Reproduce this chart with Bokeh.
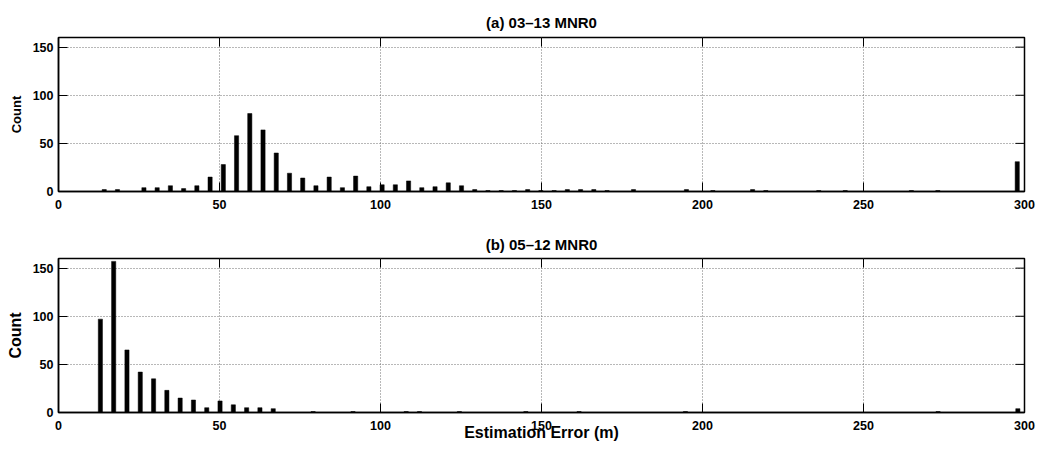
import numpy as np
from bokeh.plotting import figure
from bokeh.models import FixedTicker, Range1d, ColumnDataSource
from bokeh.layouts import column
from bokeh.embed import file_html
from bokeh.resources import INLINE

# ---------------- data ----------------
N_BINS = 70
TOP_RANGE = (12.15, 299.8)      # histogram span, panel (a)
BOTTOM_RANGE = (10.94, 300.0)   # histogram span, panel (b)

top_counts = [2, 2, 0, 4, 4, 6, 3, 6, 15, 28,
              58, 81, 64, 40, 19, 14, 6, 15, 4, 16,
              5, 7, 7, 11, 4, 5, 9, 6, 2, 1,
              1, 1, 2, 1, 1, 2, 2, 2, 1, 0,
              2, 0, 0, 0, 2, 0, 1, 0, 0, 2,
              1, 0, 0, 0, 1, 0, 1, 0, 0, 0,
              0, 1, 0, 1, 0, 0, 0, 0, 0, 31]

bottom_counts = [97, 157, 65, 42, 35, 23, 15, 13, 5, 12,
                 8, 5, 5, 4, 0, 0, 1, 0, 0, 1,
                 0, 0, 0, 1, 1, 0, 0, 1, 0, 0,
                 0, 0, 1, 0, 0, 0, 1, 0, 0, 0,
                 0, 0, 0, 0, 1, 0, 0, 0, 0, 0,
                 0, 0, 0, 0, 0, 0, 0, 0, 0, 0,
                 0, 0, 0, 1, 0, 0, 0, 0, 0, 4]

x_ticks = [0, 50, 100, 150, 200, 250, 300]
y_ticks = [0, 50, 100, 150]
titles = ["(a) 03\u201313 MNR0", "(b) 05\u201312 MNR0"]
x_label = "Estimation Error (m)"
y_label = "Count"

FONT = "Liberation Sans"
X0, X1 = 0, 300
Y0, Y1 = 0, 160
FRAME_W, FRAME_H = 966, 154
TICK_PX = 9


def bin_centers(lo, hi, n):
    edges = np.linspace(lo, hi, n + 1)
    return (edges[:-1] + edges[1:]) / 2


def make_panel(title, counts, rng, b_top, b_bottom, title_pad, ylab_size, xlab):
    p = figure(frame_width=FRAME_W, frame_height=FRAME_H,
               x_range=Range1d(X0, X1), y_range=Range1d(Y0, Y1),
               output_backend="svg", toolbar_location=None,
               min_border_left=58, min_border_right=13,
               min_border_top=b_top, min_border_bottom=b_bottom)
    p.title.text = title
    p.title.text_font = FONT
    p.title.text_font_size = "15px"
    p.title.text_font_style = "bold"
    p.title.text_color = "black"
    p.title.align = "center"
    if "padding" in p.title.properties():
        p.title.padding = title_pad

    p.background_fill_color = "white"
    p.border_fill_color = "white"
    p.outline_line_color = "black"
    p.outline_line_width = 1.5

    for g, ticks in ((p.xgrid[0], x_ticks), (p.ygrid[0], y_ticks)):
        g.ticker = FixedTicker(ticks=ticks)
        g.grid_line_color = "#707070"
        g.grid_line_dash = "1 2"
        g.grid_line_width = 1

    src = ColumnDataSource(dict(x=bin_centers(rng[0], rng[1], N_BINS), top=counts))
    p.vbar(x="x", top="top", width=1.3, source=src,
           fill_color="black", line_color="black", line_width=0.5)

    # mirrored tick marks on the top and right edges of the box
    ty = TICK_PX * (Y1 - Y0) / FRAME_H
    tx = TICK_PX * (X1 - X0) / FRAME_W
    xt = [t for t in x_ticks if X0 < t < X1]
    yt = [t for t in y_ticks if Y0 < t < Y1]
    p.segment(x0=xt, x1=xt, y0=[Y1] * len(xt), y1=[Y1 - ty] * len(xt),
              line_color="black", line_width=1)
    p.segment(x0=[X1] * len(yt), x1=[X1 - tx] * len(yt), y0=yt, y1=yt,
              line_color="black", line_width=1)

    for ax, ticks in ((p.xaxis[0], x_ticks), (p.yaxis[0], y_ticks)):
        ax.ticker = FixedTicker(ticks=ticks)
        ax.major_tick_in = TICK_PX
        ax.major_tick_out = 0
        ax.minor_tick_line_color = None
        ax.axis_line_color = "black"
        ax.axis_line_width = 1.5
        ax.major_tick_line_color = "black"
        ax.major_label_text_font = FONT
        ax.major_label_text_font_style = "bold"
        ax.major_label_text_font_size = "12.5px"
        ax.major_label_text_color = "black"
    p.xaxis.major_label_standoff = 8
    p.yaxis.major_label_standoff = 5

    p.yaxis.axis_label = y_label
    p.yaxis.axis_label_text_font = FONT
    p.yaxis.axis_label_text_font_style = "bold"
    p.yaxis.axis_label_text_font_size = ylab_size
    p.yaxis.axis_label_text_color = "black"
    p.yaxis.axis_label_standoff = 6
    if xlab:
        p.xaxis.axis_label = xlab
        p.xaxis.axis_label_text_font = FONT
        p.xaxis.axis_label_text_font_style = "bold"
        p.xaxis.axis_label_text_font_size = "16px"
        p.xaxis.axis_label_text_color = "black"
        p.xaxis.axis_label_standoff = -9
    return p


p1 = make_panel(titles[0], top_counts, TOP_RANGE, 37, 36, 2, "13px", None)
p2 = make_panel(titles[1], bottom_counts, BOTTOM_RANGE, 27, 38, 1, "16px", x_label)

layout = column(p1, p2, spacing=0)
open("out.html", "w").write(file_html(layout, INLINE))
